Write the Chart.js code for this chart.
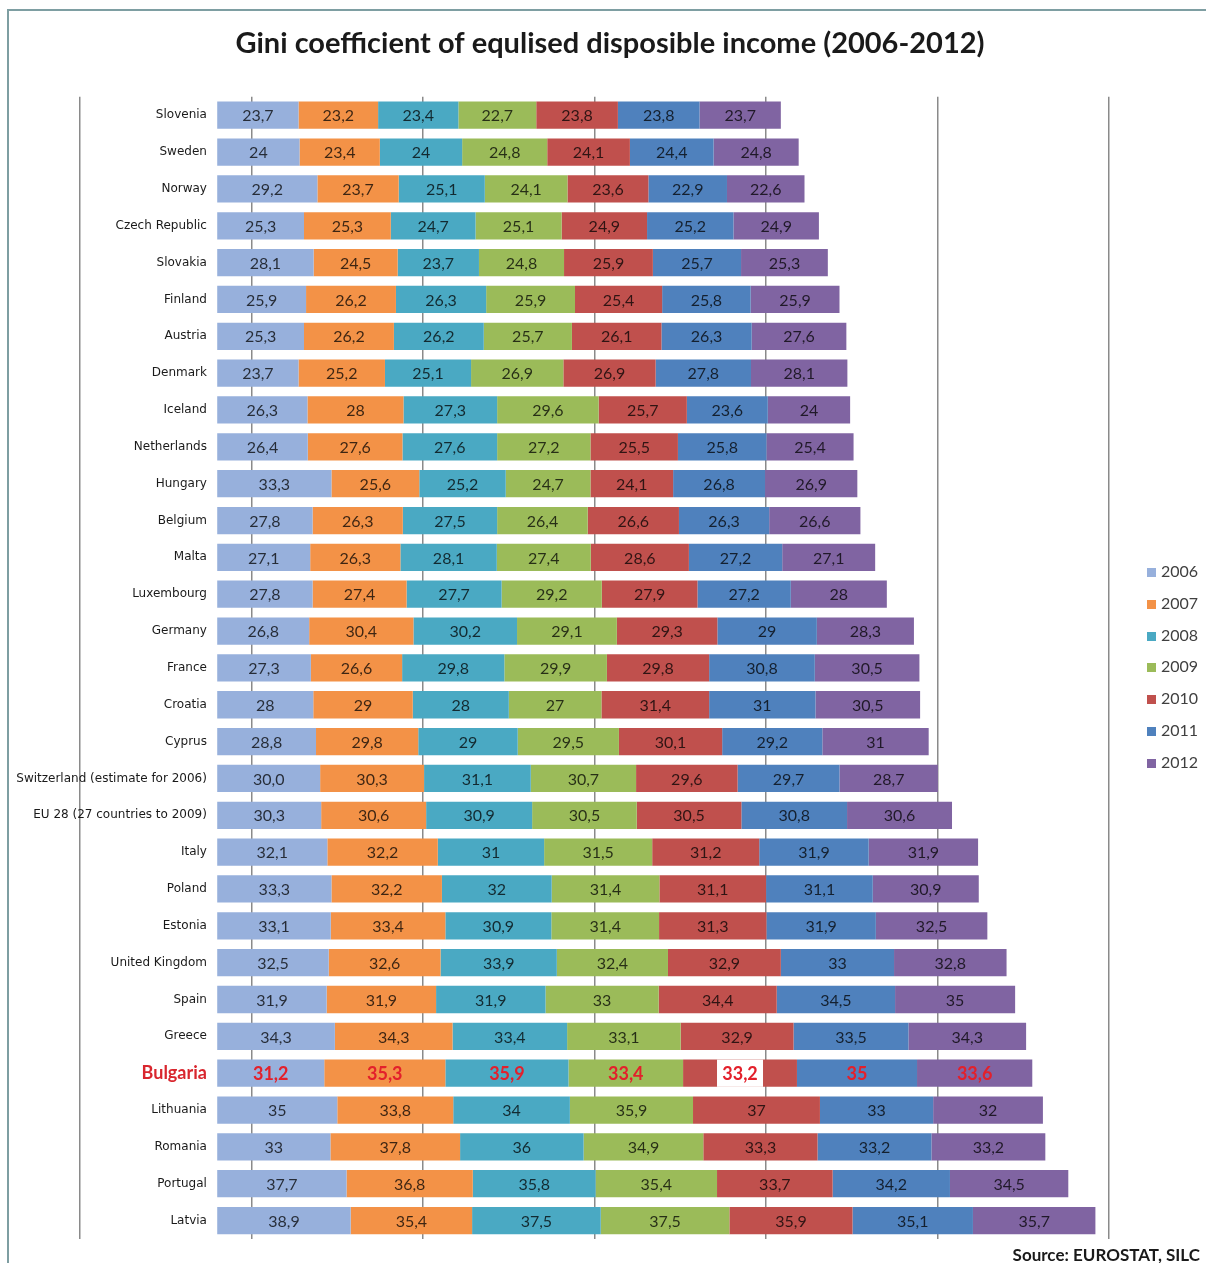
<!DOCTYPE html>
<html>
<head>
<meta charset="utf-8">
<title>Gini coefficient of equlised disposible income (2006-2012)</title>
<script src="https://cdn.jsdelivr.net/npm/chart.js@4.4.1/dist/chart.umd.min.js"></script>
<style>
    html, body { margin: 0; padding: 0; background: #fff; overflow: hidden; }
    #frame { position: absolute; left: 7px; top: 9px; width: 1300px; height: 1300px;
             border-left: 2px solid #7e9ea2; border-top: 2px solid #7e9ea2; }
    #wrap { position: absolute; left: 0; top: 0; width: 1206px; height: 1263px; }
    #legenda { position: absolute; left: 1147px; top: 555px; font: 16px Lato, sans-serif; color: #404040; }
    #legenda div { height: 31.8px; line-height: 31.8px; white-space: nowrap; }
    #legenda span { display: inline-block; width: 9px; height: 9px; margin-right: 5px; vertical-align: 0; }
</style>
</head>
<body>
<div id="frame"></div>
<div id="wrap"><canvas id="grafico"></canvas></div>
<div id="legenda"></div>
<script>
const countries = ["Slovenia", "Sweden", "Norway", "Czech Republic", "Slovakia", "Finland", "Austria",
    "Denmark", "Iceland", "Netherlands", "Hungary", "Belgium", "Malta", "Luxembourg", "Germany",
    "France", "Croatia", "Cyprus", "Switzerland (estimate for 2006)", "EU 28 (27 countries to 2009)",
    "Italy", "Poland", "Estonia", "United Kingdom", "Spain", "Greece", "Bulgaria", "Lithuania",
    "Romania", "Portugal", "Latvia"];

const years = ["2006", "2007", "2008", "2009", "2010", "2011", "2012"];

const gini2006 = [23.7, 24, 29.2, 25.3, 28.1, 25.9, 25.3, 23.7, 26.3, 26.4, 33.3, 27.8, 27.1, 27.8, 26.8, 27.3, 28, 28.8, 30.0, 30.3, 32.1, 33.3, 33.1, 32.5, 31.9, 34.3, 31.2, 35, 33, 37.7, 38.9];
const gini2007 = [23.2, 23.4, 23.7, 25.3, 24.5, 26.2, 26.2, 25.2, 28, 27.6, 25.6, 26.3, 26.3, 27.4, 30.4, 26.6, 29, 29.8, 30.3, 30.6, 32.2, 32.2, 33.4, 32.6, 31.9, 34.3, 35.3, 33.8, 37.8, 36.8, 35.4];
const gini2008 = [23.4, 24, 25.1, 24.7, 23.7, 26.3, 26.2, 25.1, 27.3, 27.6, 25.2, 27.5, 28.1, 27.7, 30.2, 29.8, 28, 29, 31.1, 30.9, 31, 32, 30.9, 33.9, 31.9, 33.4, 35.9, 34, 36, 35.8, 37.5];
const gini2009 = [22.7, 24.8, 24.1, 25.1, 24.8, 25.9, 25.7, 26.9, 29.6, 27.2, 24.7, 26.4, 27.4, 29.2, 29.1, 29.9, 27, 29.5, 30.7, 30.5, 31.5, 31.4, 31.4, 32.4, 33, 33.1, 33.4, 35.9, 34.9, 35.4, 37.5];
const gini2010 = [23.8, 24.1, 23.6, 24.9, 25.9, 25.4, 26.1, 26.9, 25.7, 25.5, 24.1, 26.6, 28.6, 27.9, 29.3, 29.8, 31.4, 30.1, 29.6, 30.5, 31.2, 31.1, 31.3, 32.9, 34.4, 32.9, 33.2, 37, 33.3, 33.7, 35.9];
const gini2011 = [23.8, 24.4, 22.9, 25.2, 25.7, 25.8, 26.3, 27.8, 23.6, 25.8, 26.8, 26.3, 27.2, 27.2, 29, 30.8, 31, 29.2, 29.7, 30.8, 31.9, 31.1, 31.9, 33, 34.5, 33.5, 35, 33, 33.2, 34.2, 35.1];
const gini2012 = [23.7, 24.8, 22.6, 24.9, 25.3, 25.9, 27.6, 28.1, 24, 25.4, 26.9, 26.6, 27.1, 28, 28.3, 30.5, 30.5, 31, 28.7, 30.6, 31.9, 30.9, 32.5, 32.8, 35, 34.3, 33.6, 32, 33.2, 34.5, 35.7];

// gridlines every 50, starting left of the bars
const gridTicks = [-40, 10, 60, 110, 160, 210, 260];

// estimated values keep their decimal ("30,0")
const estimated = [["Switzerland (estimate for 2006)", "2006"]];

const highlight = "Bulgaria";
const source = "Source: EUROSTAT, SILC";
const colors = ["#97b0dc", "#f39247", "#4aa9c3", "#9bbb59", "#c0504d", "#4f81bd", "#8064a2"];
const series = [gini2006, gini2007, gini2008, gini2009, gini2010, gini2011, gini2012];

function formatValue(value, country, year) {
    const keepDecimal = estimated.some(([c, y]) => c === country && y === year);
    const text = keepDecimal || !Number.isInteger(value) ? value.toFixed(1) : String(value);
    return text.replace(".", ",");
}

// value written in the middle of every segment
const valueLabels = {
    id: "valueLabels",
    afterDatasetsDraw(chart) {
        const ctx = chart.ctx;
        ctx.save();
        ctx.textAlign = "center";
        ctx.textBaseline = "middle";
        chart.data.datasets.forEach((dataset, d) => {
            const meta = chart.getDatasetMeta(d);
            meta.data.forEach((bar, i) => {
                const { x, y, base, height } = bar.getProps(["x", "y", "base", "height"], true);
                const cx = (x + base) / 2;
                const text = formatValue(dataset.data[i], countries[i], dataset.label);
                if (countries[i] === highlight) {
                    if (dataset.label === "2010") {
                        ctx.fillStyle = "#ffffff";
                        ctx.fillRect(cx - 23, y - height / 2, 46, height);
                    }
                    ctx.font = "bold 18px Lato";
                    ctx.fillStyle = "#e3202b";
                } else {
                    ctx.font = "16px Lato";
                    ctx.fillStyle = "rgba(0, 0, 0, 0.75)";
                }
                ctx.fillText(text, cx, y + 1);
            });
        });
        ctx.restore();
    }
};

// source note in the bottom right corner
const sourceNote = {
    id: "sourceNote",
    afterDraw(chart) {
        const ctx = chart.ctx;
        ctx.save();
        ctx.font = "bold 17px Lato";
        ctx.fillStyle = "#1a1a1a";
        ctx.textAlign = "right";
        ctx.textBaseline = "alphabetic";
        ctx.fillText(source, chart.width - 6, chart.height - 2);
        ctx.restore();
    }
};

const datasets = years.map((year, k) => ({
    label: year,
    data: series[k],
    backgroundColor: colors[k],
    borderWidth: 0,
    barPercentage: 0.74,
    categoryPercentage: 1
}));

const ctx = document.getElementById("grafico").getContext("2d");
const chart = new Chart(ctx, {
    type: "bar",
    data: {
        labels: countries,
        datasets: datasets
    },
    options: {
        indexAxis: "y",
        responsive: true,
        maintainAspectRatio: false,
        animation: false,
        layout: {
            padding: { left: 80, right: 66, top: 0, bottom: 24 }
        },
        scales: {
            x: {
                stacked: true,
                min: -40,
                max: 269,
                afterBuildTicks: (scale) => {
                    scale.ticks = gridTicks.map((v) => ({ value: v }));
                },
                ticks: { display: false },
                grid: { color: "#8a8a8a", lineWidth: 1.5, drawTicks: false },
                border: { display: false }
            },
            y: {
                stacked: true,
                position: { x: -3 },
                grid: { display: false, drawTicks: false },
                border: { display: false },
                ticks: {
                    autoSkip: false,
                    padding: 0,
                    color: (c) => countries[c.index] === highlight ? "#d9262e" : "#1a1a1a",
                    font: (c) => countries[c.index] === highlight
                        ? { family: "Lato", size: 18, weight: "bold" }
                        : { family: "DejaVu Sans", size: 12 }
                }
            }
        },
        plugins: {
            title: {
                display: true,
                text: "Gini coefficient of equlised disposible income (2006-2012)",
                color: "#1a1a1a",
                font: { family: "Lato", size: 29, weight: "bold" },
                padding: { top: 26, bottom: 36 }
            },
            legend: { display: false },
            tooltip: { enabled: false }
        }
    },
    plugins: [valueLabels, sourceNote]
});

// legend built from the chart's datasets
function montarLegenda(chart) {
    const legenda = document.getElementById("legenda");
    legenda.innerHTML = "";
    for (const dataset of chart.data.datasets) {
        const item = document.createElement("div");
        const caixa = document.createElement("span");
        caixa.style.background = dataset.backgroundColor;
        item.appendChild(caixa);
        item.appendChild(document.createTextNode(dataset.label));
        legenda.appendChild(item);
    }
}

montarLegenda(chart);
</script>
</body>
</html>
